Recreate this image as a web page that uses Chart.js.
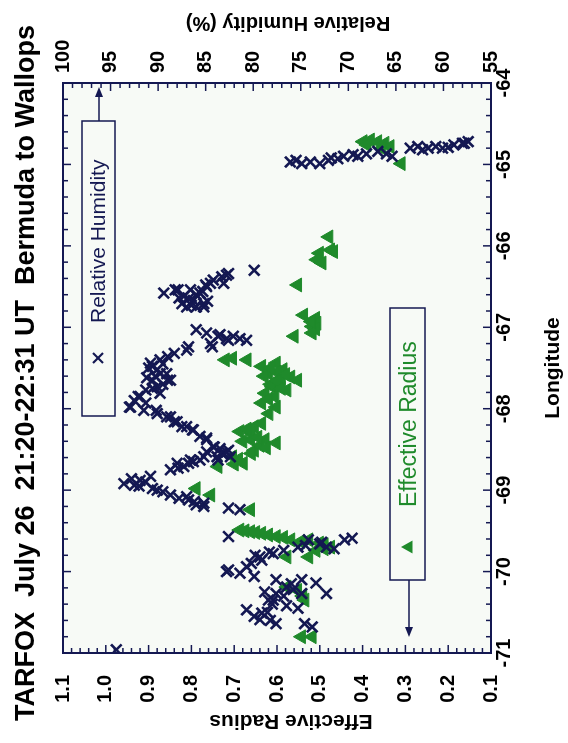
<!DOCTYPE html>
<html lang="en">
<head>
<meta charset="UTF-8">
<title>TARFOX July 26 - Bermuda to Wallops</title>
<script src="https://cdn.jsdelivr.net/npm/chart.js"></script>
<style>
  html, body { margin: 0; padding: 0; background: #fff; }
  body { width: 568px; height: 743px; overflow: hidden; position: relative; }
  /* the figure is laid out landscape and turned a quarter turn, like the scan */
  #wrap {
    position: absolute; left: 0; top: 0;
    width: 743px; height: 568px;
    transform-origin: 0 0;
    transform: translateY(743px) rotate(-90deg);
  }
</style>
</head>
<body>
<div id="wrap"><canvas id="chart"></canvas></div>
<script>
// axis ranges
const lonRange = [-71, -64];
const erRange = [0.1, 1.1];
const rhRange = [55, 100];

// relative humidity (%) against longitude
const rhLon = [
  -64.97,-64.99,-64.97,-64.99,-64.95,-64.93,-64.90,-64.90,-64.87,-64.84,-64.87,-64.90,-64.80,-64.78,-64.80,-64.78,-64.80,-64.76,-64.74,-64.72,-64.95,-64.92,-64.88,-64.82,-64.79,-64.74,
  -66.30,-66.34,-66.38,-66.42,-66.46,-66.36,-66.46,-66.50,-66.54,-66.54,-66.58,-66.58,-66.62,-66.65,-66.67,-66.71,-66.71,-66.75,-66.75,-66.75,-66.54,
  -66.60,-66.64,-66.68,-66.56,-66.73,-66.48,
  -67.03,-67.07,-67.11,-67.16,-67.14,-67.16,-67.20,-67.24,-67.09,-67.14,-67.11,-67.24,-67.28,
  -67.32,-67.40,-67.44,-67.48,-67.52,-67.57,-67.57,-67.65,-67.65,-67.65,-67.73,-67.77,-67.81,-67.85,-67.85,-67.93,-67.98,-67.98,
  -67.45,-67.50,-67.60,-67.70,-67.75,-67.90,-67.62,-67.36,
  -68.02,-68.10,-68.10,-68.16,-68.22,-68.22,-68.26,-68.34,-68.38,-68.47,-68.47,-68.55,-68.51,-68.63,-68.63,-68.67,-68.73,-68.65,-68.71,-68.75,-68.55,
  -68.02,-68.06,-68.16,-68.26,-68.36,-68.49,-68.53,-68.59,-68.59,-68.53,-68.67,-68.63,-68.59,
  -68.92,-68.94,-68.90,-68.98,-68.88,-68.83,-69.00,-69.06,-69.08,-69.12,-69.18,-69.16,-69.22,-69.24,-69.20,
  -68.95,-68.86,-69.02,-69.10,-69.14,
  -69.57,
  -69.98,-70.02,-70.06,-69.94,-69.86,-69.82,-69.78,-69.74,-69.70,-69.61,-69.70,-69.61,-69.59,-69.66,-69.72,-70.00,-69.90,
  -69.76,-69.80,-69.68,-69.64,
  -70.10,-70.19,-70.27,-70.35,-70.10,-70.14,-70.27,-70.27,-70.45,-70.47,-70.55,-70.51,-70.64,-70.64,-70.68,-70.59,-70.35,-70.22,-70.40,
  -70.30,-70.42,-70.50,-70.60,-70.25,-70.15,
  -70.96
];
const rhVal = [
  76.1,74.9,74.0,73.0,72.1,71.1,70.5,69.0,68.1,66.9,66.0,65.4,63.5,62.7,61.6,60.8,60.1,58.9,58.0,57.4,75.5,71.8,69.5,62.2,59.5,57.8,
  79.9,82.6,83.3,84.2,84.5,82.8,83.1,84.9,86.6,87.9,89.4,85.6,87.3,86.8,86.3,87.5,85.2,86.0,87.0,85.2,88.2,
  86.0,87.8,84.8,85.3,86.5,85.0,
  86.0,84.9,83.7,82.6,81.4,80.7,84.5,86.8,83.5,82.8,82.1,84.3,87.0,
  88.3,89.8,90.8,90.6,90.1,89.8,89.1,89.0,90.6,88.7,90.1,91.3,89.8,92.1,91.9,91.3,93.0,92.9,
  89.5,91.0,90.3,89.5,90.6,92.5,91.2,89.0,
  90.2,89.1,88.7,88.3,87.5,87.0,86.4,85.6,84.9,84.1,84.2,83.3,82.6,83.7,85.6,86.8,87.9,86.3,87.3,88.7,83.1,
  91.5,90.1,88.0,86.3,84.9,83.5,82.8,82.4,83.8,84.9,88.0,86.6,85.2,
  93.6,92.5,91.3,90.6,91.9,90.8,90.1,88.7,87.0,86.8,86.0,85.2,82.6,81.4,85.2,
  92.0,92.8,89.5,87.8,86.2,
  82.6,
  82.6,81.4,79.9,80.7,79.1,79.3,77.9,76.8,75.3,74.2,72.3,70.4,69.6,73.0,71.5,82.8,80.2,
  78.3,79.8,74.5,72.8,
  77.6,76.5,77.6,78.4,74.9,73.4,72.3,74.9,75.3,80.7,79.9,79.1,77.6,74.6,73.8,79.3,77.9,75.8,78.0,
  76.8,76.5,78.5,78.2,78.8,76.0,
  94.4
];

// effective radius against longitude
const erLon = [
  -64.72,-64.70,-64.72,-64.74,-64.78,-64.76,-64.80,-64.99,
  -65.89,-66.05,-66.07,-66.09,-66.17,-66.21,-66.48,
  -66.85,-66.89,-66.95,-66.99,-67.02,-67.07,-67.11,-66.93,
  -67.40,-67.38,-67.40,-67.48,-67.57,-67.44,-67.52,-67.61,-67.65,-67.69,-67.73,-67.81,-67.77,-67.93,-67.98,-68.06,-67.55,-67.62,-67.70,-67.85,
  -67.58,-67.66,-67.75,-67.88,-67.60,-67.50,
  -68.28,-68.22,-68.18,-68.38,-68.38,-68.42,-68.51,-68.67,-68.71,-68.59,-68.45,-68.30,
  -68.25,-68.35,-68.48,-68.55,-68.62,-68.68,-68.40,
  -68.98,-69.06,-69.24,
  -69.49,-69.51,-69.53,-69.57,-69.61,-69.61,-69.65,-69.70,-69.74,-69.82,-69.82,-69.50,-69.52,-69.67,
  -69.55,-69.58,-69.63,-69.72,
  -70.19,-70.23,-70.35,-70.30,
  -70.80,-70.80
];
const erVal = [
  0.399,0.382,0.365,0.348,0.336,0.390,0.355,0.310,
  0.479,0.475,0.468,0.501,0.507,0.495,0.552,
  0.538,0.510,0.507,0.518,0.510,0.518,0.560,0.520,
  0.721,0.704,0.670,0.636,0.619,0.602,0.586,0.568,0.552,0.594,0.611,0.628,0.577,0.636,0.602,0.619,0.600,0.590,0.615,0.605,
  0.580,0.600,0.590,0.620,0.630,0.615,
  0.687,0.653,0.636,0.662,0.628,0.602,0.653,0.679,0.738,0.704,0.640,0.660,
  0.670,0.645,0.625,0.660,0.690,0.700,0.680,
  0.789,0.755,0.662,
  0.687,0.662,0.636,0.602,0.568,0.526,0.501,0.475,0.509,0.577,0.526,0.675,0.650,0.490,
  0.620,0.585,0.545,0.490,
  0.577,0.552,0.535,0.540,
  0.543,0.518
];

const navy = '#141852';
const green = '#1f8a2b';
const FONT = '"Liberation Sans", Arial, Helvetica, sans-serif';

function line(ctx, x1, y1, x2, y2) {
  ctx.beginPath();
  ctx.moveTo(x1, y1);
  ctx.lineTo(x2, y2);
  ctx.stroke();
}

function arrow(ctx, x1, y, x2) {
  const d = Math.sign(x2 - x1);
  line(ctx, x1, y, x2 - d * 7, y);
  ctx.beginPath();
  ctx.moveTo(x2, y);
  ctx.lineTo(x2 - d * 10, y - 4);
  ctx.lineTo(x2 - d * 10, y + 4);
  ctx.closePath();
  ctx.fill();
}

function vText(ctx, txt, x, y) {
  // text running bottom to top, baseline at x
  ctx.save();
  ctx.translate(x, y);
  ctx.rotate(-Math.PI / 2);
  ctx.textAlign = 'center';
  ctx.textBaseline = 'alphabetic';
  ctx.fillText(txt, 0, 0);
  ctx.restore();
}

// plot background, inward ticks, frame, legends and titles
const frame = {
  id: 'frame',
  beforeDraw(chart) {
    const { ctx, chartArea: a } = chart;
    ctx.save();
    ctx.fillStyle = '#f7faf6';
    ctx.fillRect(a.left, a.top, a.right - a.left, a.bottom - a.top);
    ctx.restore();
  },
  afterDraw(chart) {
    const { ctx, chartArea: a, scales } = chart;
    ctx.save();
    ctx.strokeStyle = navy;
    ctx.fillStyle = navy;
    ctx.lineWidth = 1.5;

    for (let i = 0; i <= 35; i++) {
      const px = scales.x.getPixelForValue(lonRange[0] + i * 0.2);
      const len = i % 5 === 0 ? 8 : 5;
      line(ctx, px, a.bottom, px, a.bottom - len);
      line(ctx, px, a.top, px, a.top + len);
    }
    for (let i = 0; i <= 50; i++) {
      const py = scales.y.getPixelForValue(erRange[0] + i * 0.02);
      const len = i % 5 === 0 ? 8 : 5;
      line(ctx, a.left, py, a.left + len, py);
    }
    for (let v = rhRange[0]; v <= rhRange[1]; v++) {
      const py = scales.yRH.getPixelForValue(v);
      const len = v % 5 === 0 ? 8 : 5;
      line(ctx, a.right, py, a.right - len, py);
    }
    ctx.lineWidth = 2;
    ctx.strokeRect(a.left, a.top, a.right - a.left, a.bottom - a.top);

    // legend: relative humidity
    ctx.lineWidth = 1.5;
    ctx.strokeRect(327, 82, 295, 33);
    ctx.lineWidth = 2.2;
    line(ctx, 380, 93, 390, 103);
    line(ctx, 380, 103, 390, 93);
    ctx.lineWidth = 1.5;
    arrow(ctx, 622, 99, 656);
    ctx.font = '21px ' + FONT;
    ctx.textBaseline = 'alphabetic';
    ctx.textAlign = 'left';
    ctx.fillText('Relative Humidity', 420, 105);

    // legend: effective radius
    ctx.strokeRect(163, 390, 272, 35);
    arrow(ctx, 163, 409, 106);
    ctx.fillStyle = green;
    ctx.beginPath();
    ctx.moveTo(196, 401);
    ctx.lineTo(202.5, 412.5);
    ctx.lineTo(189.5, 412.5);
    ctx.closePath();
    ctx.fill();
    ctx.font = '23px ' + FONT;
    ctx.fillText('Effective Radius', 236, 416);

    // titles
    ctx.fillStyle = '#000';
    ctx.font = 'bold 27px ' + FONT;
    ctx.textAlign = 'center';
    ctx.fillText('TARFOX  July 26  21:20-22:31 UT  Bermuda to Wallops', 370, 34);
    ctx.font = 'bold 21px ' + FONT;
    ctx.fillText('Longitude', (a.left + a.right) / 2, 559);
    vText(ctx, 'Effective Radius', 28, 291);
    ctx.font = 'bold 20px ' + FONT;
    vText(ctx, 'Relative Humidity (%)', 726, 288);
    ctx.restore();
  }
};

const tickFont = { family: FONT, size: 20, weight: 'bold' };

new Chart(document.getElementById('chart'), {
  type: 'scatter',
  data: {
    datasets: [
      {
        label: 'Relative Humidity',
        data: rhLon.map((x, i) => ({ x: x, y: rhVal[i] })),
        yAxisID: 'yRH',
        pointStyle: 'crossRot',
        pointRadius: 7.5,
        pointBorderWidth: 2.6,
        borderColor: navy,
        backgroundColor: navy
      },
      {
        label: 'Effective Radius',
        data: erLon.map((x, i) => ({ x: x, y: erVal[i] })),
        yAxisID: 'y',
        pointStyle: 'triangle',
        pointRadius: 8,
        pointBorderWidth: 1,
        borderColor: green,
        backgroundColor: green
      }
    ]
  },
  options: {
    responsive: true,
    maintainAspectRatio: false,
    animation: false,
    devicePixelRatio: 1,
    layout: { padding: { top: 63 } },
    plugins: {
      legend: { display: false },
      tooltip: { enabled: false },
      title: { display: false }
    },
    scales: {
      x: {
        type: 'linear', position: 'bottom',
        min: lonRange[0], max: lonRange[1],
        grid: { display: false, drawTicks: false },
        border: { display: false },
        ticks: { stepSize: 1, font: tickFont, color: '#000', padding: 1, maxRotation: 0 },
        afterFit: s => { s.height = 77; }
      },
      y: {
        type: 'linear', position: 'left',
        min: erRange[0], max: erRange[1],
        grid: { display: false, drawTicks: false },
        border: { display: false },
        ticks: { stepSize: 0.1, font: tickFont, color: '#000', padding: 22,
                 callback: v => v.toFixed(1) },
        afterFit: s => { s.width = 90; }
      },
      yRH: {
        type: 'linear', position: 'right',
        min: rhRange[0], max: rhRange[1],
        grid: { display: false, drawTicks: false },
        border: { display: false },
        ticks: { stepSize: 5, font: tickFont, color: '#000', padding: 10 },
        afterFit: s => { s.width = 83; }
      }
    }
  },
  plugins: [frame]
});
</script>
</body>
</html>
